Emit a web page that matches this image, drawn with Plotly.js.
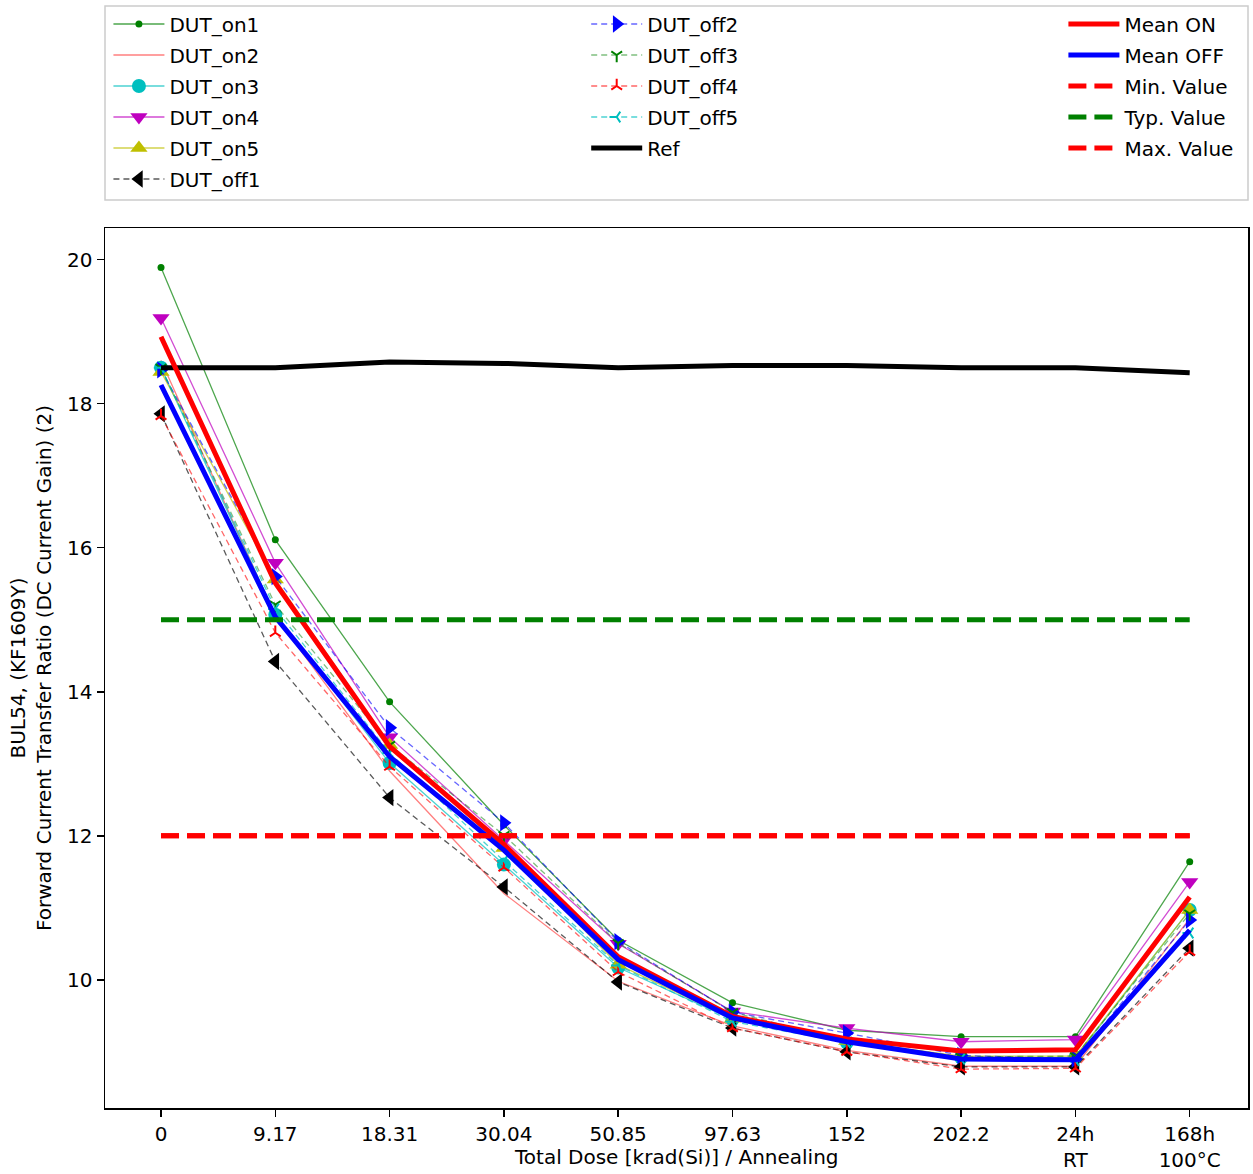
<!DOCTYPE html>
<html>
<head>
<meta charset="utf-8">
<script src="https://cdn.plot.ly/plotly-3.0.1.min.js"></script>
<style>html,body{margin:0;padding:0;background:#fff;}#chart{width:1253px;height:1174px;}</style>
</head>
<body>
<div id="chart"></div>
<script>
const doseLabels = ['0','9.17','18.31','30.04','50.85','97.63','152','202.2','24h<br>RT','168h<br>100°C'];
const xIndex = [0,1,2,3,4,5,6,7,8,9];

const dut_on1  = [19.89, 16.11, 13.86, 12.15, 10.55, 9.68, 9.30, 9.21, 9.21, 11.64];
const dut_on2  = [18.60, 15.05, 12.90, 11.20, 9.98, 9.36, 9.02, 8.80, 8.80, 10.85];
const dut_on3  = [18.50, 15.07, 13.01, 11.60, 10.17, 9.45, 9.13, 8.92, 8.92, 10.97];
const dut_on4  = [19.19, 15.79, 13.37, 11.94, 10.50, 9.56, 9.33, 9.14, 9.17, 11.36];
const dut_on5  = [18.44, 15.56, 13.26, 11.83, 10.21, 9.46, 9.15, 8.94, 8.94, 10.97];
const dut_off1 = [17.86, 14.42, 12.53, 11.29, 9.97, 9.33, 9.00, 8.79, 8.79, 10.44];
const dut_off2 = [18.47, 15.60, 13.50, 12.18, 10.53, 9.55, 9.26, 8.95, 8.90, 10.83];
const dut_off3 = [18.50, 15.21, 13.26, 12.01, 10.51, 9.55, 9.15, 8.93, 8.94, 10.92];
const dut_off4 = [17.83, 14.82, 12.96, 11.56, 10.11, 9.33, 9.00, 8.76, 8.77, 10.39];
const dut_off5 = [18.50, 15.15, 13.15, 11.65, 10.20, 9.42, 9.13, 8.90, 8.88, 10.65];
const refValues = [18.50, 18.50, 18.58, 18.56, 18.50, 18.53, 18.53, 18.50, 18.50, 18.43];
const meanOn  = [18.93, 15.51, 13.24, 11.88, 10.32, 9.49, 9.18, 9.01, 9.03, 11.15];
const meanOff = [18.26, 15.04, 13.10, 11.80, 10.28, 9.47, 9.14, 8.90, 8.89, 10.69];
const minValue = [12,12,12,12,12,12,12,12,12,12];
const typValue = [15,15,15,15,15,15,15,15,15,15];
const maxValue = [12,12,12,12,12,12,12,12,12,12];

function dut(name, y, lineColor, markerColor, symbol, size, dash, legend, open) {
  const m = {symbol: symbol, size: size, color: markerColor};
  if (open) m.line = {color: markerColor, width: 2};
  return {
    type: 'scatter', mode: symbol ? 'lines+markers' : 'lines', name: name,
    x: xIndex, y: y, legend: legend, legendgroup: name,
    line: {color: lineColor, width: 1.3, dash: dash},
    marker: m
  };
}
function thick(name, y, color, dash, legend) {
  return {
    type: 'scatter', mode: 'lines', name: name, x: xIndex, y: y,
    legend: legend, legendgroup: name,
    line: {color: color, width: 5, dash: dash}
  };
}

const traces = [
  dut('DUT_on1', dut_on1, 'rgba(0,128,0,0.7)', '#008000', 'circle', 7, 'solid', 'legend'),
  dut('DUT_on2', dut_on2, 'rgba(255,0,0,0.5)', '#ff0000', null, 0, 'solid', 'legend'),
  dut('DUT_on3', dut_on3, 'rgba(0,191,191,0.7)', '#00bfbf', 'circle', 14, 'solid', 'legend'),
  dut('DUT_on4', dut_on4, 'rgba(191,0,191,0.7)', '#bf00bf', 'triangle-down', 15, 'solid', 'legend'),
  dut('DUT_on5', dut_on5, 'rgba(191,191,0,0.7)', '#bfbf00', 'triangle-up', 15, 'solid', 'legend'),
  dut('DUT_off1', dut_off1, 'rgba(0,0,0,0.65)', '#000000', 'triangle-left', 15, '6px,4px', 'legend'),
  dut('DUT_off2', dut_off2, 'rgba(0,0,255,0.6)', '#0000ff', 'triangle-right', 15, '6px,4px', 'legend2'),
  dut('DUT_off3', dut_off3, 'rgba(0,128,0,0.5)', '#008000', 'y-down', 9, '6px,4px', 'legend2', true),
  dut('DUT_off4', dut_off4, 'rgba(255,0,0,0.6)', '#ff0000', 'y-up', 9, '6px,4px', 'legend2', true),
  dut('DUT_off5', dut_off5, 'rgba(0,191,191,0.7)', '#00bfbf', 'y-left', 9, '6px,4px', 'legend2', true),
  thick('Ref', refValues, '#000000', 'solid', 'legend2'),
  thick('Mean ON', meanOn, '#ff0000', 'solid', 'legend3'),
  thick('Mean OFF', meanOff, '#0000ff', 'solid', 'legend3'),
  thick('Min. Value', minValue, '#ff0000', '18px,8px', 'legend3'),
  thick('Typ. Value', typValue, '#008000', '18px,8px', 'legend3'),
  thick('Max. Value', maxValue, '#ff0000', '18px,8px', 'legend3')
];

const legendCommon = {
  orientation: 'v', yanchor: 'top', xanchor: 'left', y: 1.254,
  bgcolor: 'rgba(0,0,0,0)', borderwidth: 0, tracegroupgap: 2,
  font: {family: 'DejaVu Sans', size: 20, color: '#000'},
  itemwidth: 51
};

const layout = {
  width: 1253, height: 1174,
  margin: {l: 105, r: 5, t: 228, b: 66, pad: 0, autoexpand: false},
  paper_bgcolor: '#fff', plot_bgcolor: '#fff',
  font: {family: 'DejaVu Sans', size: 20, color: '#000'},
  showlegend: true,
  legend: Object.assign({}, legendCommon, {x: 0.003}),
  legend2: Object.assign({}, legendCommon, {x: 0.421}),
  legend3: Object.assign({}, legendCommon, {x: 0.8385}),
  xaxis: {
    range: [-0.49, 9.51], tickmode: 'array', tickvals: xIndex, ticktext: doseLabels,
    showgrid: false, zeroline: false, showline: true, mirror: true,
    linecolor: '#000', linewidth: 1.5, ticks: 'outside', ticklen: 7, tickwidth: 1.5,
    tickcolor: '#000', tickfont: {family: 'DejaVu Sans', size: 20}
  },
  yaxis: {
    range: [8.22, 20.44], tickmode: 'array', tickvals: [10,12,14,16,18,20],
    showgrid: false, zeroline: false, showline: true, mirror: true,
    linecolor: '#000', linewidth: 1.5, ticks: 'outside', ticklen: 7, tickwidth: 1.5,
    tickcolor: '#000', tickfont: {family: 'DejaVu Sans', size: 20},
    title: {text: 'BUL54, (KF1609Y)<br>Forward Current Transfer Ratio (DC Current Gain) (2)',
            font: {family: 'DejaVu Sans', size: 20}, standoff: 10}
  },
  annotations: [{
    xref: 'paper', yref: 'paper', x: 0.5, y: -(1157 - 1108) / 880, xanchor: 'center', yanchor: 'middle',
    text: 'Total Dose [krad(Si)] / Annealing', showarrow: false,
    font: {family: 'DejaVu Sans', size: 20, color: '#000'}
  }],
  shapes: [{
    type: 'rect', xref: 'paper', yref: 'paper',
    x0: 0, x1: 1, y0: (1108 - 200) / 880, y1: (1108 - 6) / 880,
    line: {color: '#cccccc', width: 1.5}, fillcolor: 'rgba(0,0,0,0)'
  }]
};

Plotly.newPlot('chart', traces, layout, {displayModeBar: false, staticPlot: true});
</script>
</body>
</html>
